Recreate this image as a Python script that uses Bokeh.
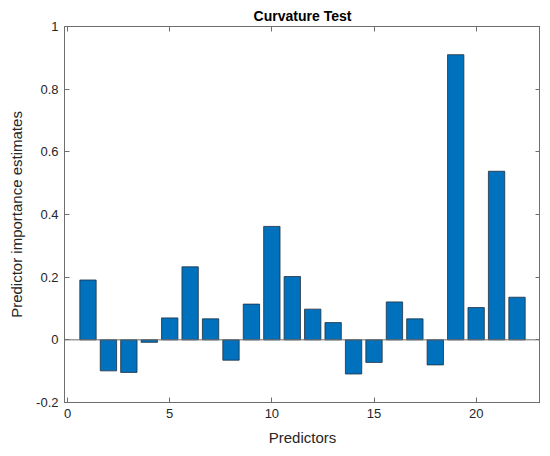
from bokeh.plotting import figure
from bokeh.models import (ColumnDataSource, FixedTicker, LinearAxis, Span,
                          CustomJSTickFormatter, Range1d)
from bokeh.embed import file_html
from bokeh.resources import INLINE

# predictor importance estimates
predictors = list(range(1, 23))
importance = [0.191, -0.099, -0.104, -0.008, 0.070, 0.233, 0.067, -0.065,
              0.114, 0.362, 0.202, 0.098, 0.055, -0.109, -0.072, 0.121,
              0.067, -0.080, 0.910, 0.103, 0.538, 0.136]
x_ticks = [0, 5, 10, 15, 20]
y_ticks = [-0.2, 0, 0.2, 0.4, 0.6, 0.8, 1.0]

FONT = "Liberation Sans"
AXIS = "#6e6e6e"
TEXT = "#262626"

src = ColumnDataSource(data=dict(x=predictors, top=importance))

p = figure(frame_width=476, frame_height=376, output_backend="svg",
           toolbar_location=None,
           x_range=Range1d(-0.15, 23.15), y_range=Range1d(-0.2, 1.0),
           title="Curvature Test", x_axis_location=None, y_axis_location=None,
           min_border_left=64, min_border_right=0, min_border_top=26,
           min_border_bottom=45)

p.vbar(x="x", top="top", bottom=0, width=0.8, source=src,
       fill_color="#0072BD", line_color="#1f2f3f", line_width=0.8)

p.add_layout(Span(location=0, dimension="width", line_color=AXIS, line_width=1))

p.title.align = "center"
p.title.text_font = FONT
p.title.text_font_size = "14px"
p.title.text_font_style = "bold"
p.title.text_color = "#000000"
p.title.standoff = 6

p.xgrid.visible = False
p.ygrid.visible = False
p.outline_line_color = AXIS

fmt = CustomJSTickFormatter(code="return String(Math.round(tick*10)/10);")
blank = CustomJSTickFormatter(code="return '';")

bottom_ax = LinearAxis(ticker=FixedTicker(ticks=x_ticks), axis_label="Predictors")
left_ax = LinearAxis(ticker=FixedTicker(ticks=y_ticks), formatter=fmt,
                     axis_label="Predictor importance estimates")
# box axes on top and right with ticks only
top_ax = LinearAxis(ticker=FixedTicker(ticks=x_ticks), formatter=blank)
right_ax = LinearAxis(ticker=FixedTicker(ticks=y_ticks), formatter=blank)
p.add_layout(bottom_ax, "below")
p.add_layout(left_ax, "left")
p.add_layout(top_ax, "above")
p.add_layout(right_ax, "right")

for ax in (bottom_ax, left_ax, top_ax, right_ax):
    ax.axis_line_color = AXIS
    ax.major_tick_line_color = AXIS
    ax.major_tick_in = 5
    ax.major_tick_out = 0
    ax.minor_tick_line_color = None
    ax.major_label_text_font = FONT
    ax.major_label_text_color = TEXT
    ax.major_label_text_font_size = "13px"
    ax.axis_label_text_font = FONT
    ax.axis_label_text_color = TEXT
    ax.axis_label_text_font_style = "normal"
    ax.axis_label_text_font_size = "15px"

bottom_ax.major_label_standoff = 6
bottom_ax.axis_label_standoff = 8
left_ax.major_label_standoff = 6
left_ax.axis_label_standoff = 8
top_ax.major_label_standoff = 0
right_ax.major_label_standoff = 0

open("out.html", "w").write(file_html(p, INLINE))
